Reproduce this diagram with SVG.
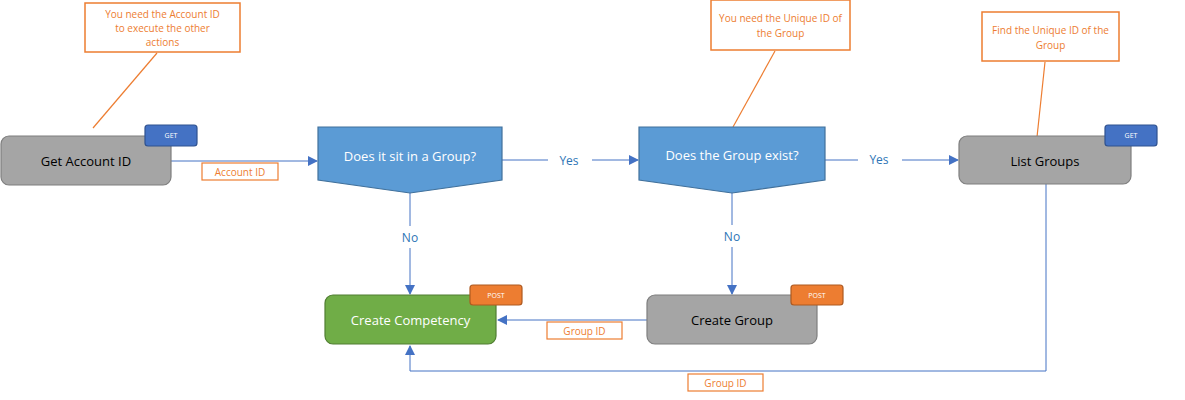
<svg xmlns="http://www.w3.org/2000/svg" width="1185" height="400" viewBox="0 0 1185 400">
<defs>
<style>
text{font-family:"Open Sans","Liberation Sans",sans-serif;text-anchor:middle;dominant-baseline:central}
.gray{fill:#a5a5a5;stroke:#7f7f7f;stroke-width:1.2}
.dec{fill:#5b9bd5;stroke:#41719c;stroke-width:1.2}
.green{fill:#70ad47;stroke:#507e32;stroke-width:1.2}
.get{fill:#4472c4;stroke:#2f528f;stroke-width:1.2}
.post{fill:#ed7d31;stroke:#ae5a21;stroke-width:1.2}
.call{fill:#fff;stroke:#ed7d31;stroke-width:1.5}
.ct{fill:#ed7d31;font-size:10px}
.lbl{fill:#fff;stroke:#ed7d31;stroke-width:1.2}
.conn{fill:none;stroke:#4472c4;stroke-width:1}
.cl{stroke:#ed7d31;stroke-width:1.2}
.yn{fill:#2e75b6;font-size:12px}
.bt{fill:#fff;font-size:7px}
</style>
<marker id="ar" markerWidth="10" markerHeight="10" refX="9" refY="5" orient="auto" markerUnits="userSpaceOnUse"><path d="M0,0 L10,5 L0,10 Z" fill="#4472c4"/></marker>
</defs>
<rect width="1185" height="400" fill="#fff"/>
<g id="connectors">
<line class="conn" x1="171" y1="161" x2="317" y2="161" marker-end="url(#ar)"/>
<line class="conn" x1="502" y1="160" x2="548" y2="160"/>
<line class="conn" x1="592" y1="160" x2="638" y2="160" marker-end="url(#ar)"/>
<line class="conn" x1="825" y1="160" x2="858" y2="160"/>
<line class="conn" x1="902" y1="160" x2="958" y2="160" marker-end="url(#ar)"/>
<line class="conn" x1="410" y1="193" x2="410" y2="226"/>
<line class="conn" x1="410" y1="248" x2="410" y2="294" marker-end="url(#ar)"/>
<line class="conn" x1="732" y1="193" x2="732" y2="225"/>
<line class="conn" x1="732" y1="247" x2="732" y2="294" marker-end="url(#ar)"/>
<line class="conn" x1="647" y1="320" x2="498" y2="320" marker-end="url(#ar)"/>
<polyline class="conn" points="1046,184 1046,371 410,371 410,346" marker-end="url(#ar)"/>
<text class="yn" x="569" y="160">Yes</text>
<text class="yn" x="879" y="159">Yes</text>
<text class="yn" x="410" y="237">No</text>
<text class="yn" x="732" y="236">No</text>
<rect class="lbl" x="202" y="163" width="76" height="17"/><text class="ct" x="240" y="171.5">Account ID</text>
<rect class="lbl" x="547" y="322" width="75" height="17"/><text class="ct" x="584.5" y="330.5">Group ID</text>
<rect class="lbl" x="688" y="374" width="75" height="17"/><text class="ct" x="725.5" y="382.5">Group ID</text>
<line class="cl" x1="157" y1="53" x2="93" y2="128"/>
<line class="cl" x1="775" y1="51" x2="733" y2="127"/>
<line class="cl" x1="1045" y1="62" x2="1037" y2="137"/>
</g>
<g id="note1"><rect class="call" x="85" y="3" width="155" height="49"/><text class="ct" x="162.5" y="14">You need the Account ID</text><text class="ct" x="162.5" y="28">to execute the other</text><text class="ct" x="162.5" y="42">actions</text></g>
<g id="note2"><rect class="call" x="711" y="0" width="139" height="50"/><text class="ct" x="780.5" y="18">You need the Unique ID of</text><text class="ct" x="780.5" y="33">the Group</text></g>
<g id="note3"><rect class="call" x="982" y="12" width="137" height="49"/><text class="ct" x="1050.5" y="30">Find the Unique ID of the</text><text class="ct" x="1050.5" y="45">Group</text></g>
<g id="getAccount"><rect class="gray" x="1" y="136" width="170" height="49" rx="8"/><text x="86" y="161" font-size="13" fill="#000">Get Account ID</text>
<rect class="get" x="145" y="125" width="52" height="21" rx="3"/><text class="bt" x="171" y="135.5">GET</text></g>
<g id="decision1"><polygon class="dec" points="318,127 502,127 502,180 410,193 318,180"/><text x="410" y="156" font-size="13" fill="#fff">Does it sit in a Group?</text></g>
<g id="decision2"><polygon class="dec" points="639,127 825,127 825,180 732,193 639,180"/><text x="732" y="155" font-size="13" fill="#fff">Does the Group exist?</text></g>
<g id="listGroups"><rect class="gray" x="959" y="136" width="172" height="48" rx="8"/><text x="1045" y="161" font-size="13" fill="#000">List Groups</text>
<rect class="get" x="1105" y="125" width="52" height="21" rx="3"/><text class="bt" x="1131" y="135.5">GET</text></g>
<g id="createCompetency"><rect class="green" x="325" y="295" width="171" height="49" rx="8"/><text x="410.5" y="320" font-size="13" fill="#fff">Create Competency</text>
<rect class="post" x="470" y="285" width="52" height="20" rx="3"/><text class="bt" x="496" y="295">POST</text></g>
<g id="createGroup"><rect class="gray" x="647" y="295" width="170" height="49" rx="8"/><text x="732" y="320" font-size="13" fill="#000">Create Group</text>
<rect class="post" x="791" y="285" width="52" height="20" rx="3"/><text class="bt" x="817" y="295">POST</text></g>
</svg>
